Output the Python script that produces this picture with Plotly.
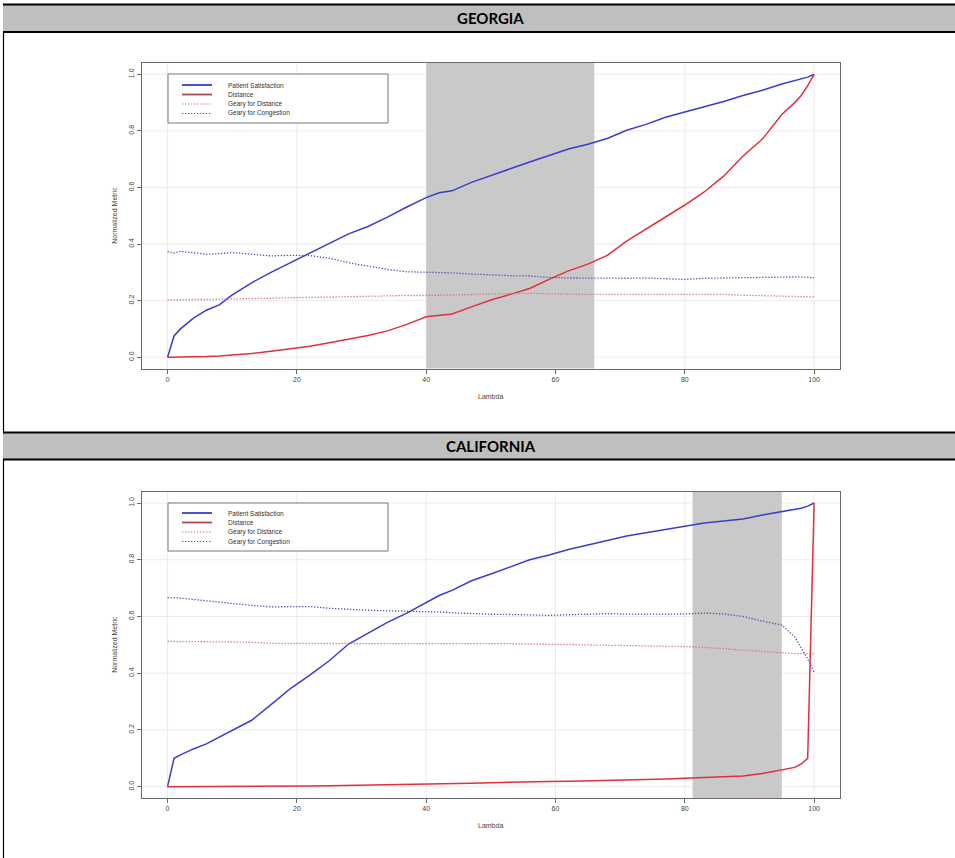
import plotly.graph_objects as go

W, H = 955, 858

# ---------------- data ----------------
lam = [0, 1, 2, 4, 6, 8, 10, 13, 16, 19, 22, 25, 28, 31, 34, 37, 40, 42, 44, 47,
       50, 53, 56, 59, 62, 65, 68, 71, 74, 77, 80, 83, 86, 89, 92, 95, 97, 98, 99, 100]

ga_satisfaction = [0.0, 0.075, 0.10, 0.138, 0.166, 0.185, 0.22, 0.263, 0.30, 0.334,
                   0.368, 0.403, 0.436, 0.462, 0.495, 0.531, 0.564, 0.581, 0.588, 0.618,
                   0.643, 0.666, 0.690, 0.714, 0.736, 0.753, 0.773, 0.802, 0.823, 0.848,
                   0.866, 0.884, 0.904, 0.925, 0.944, 0.966, 0.977, 0.983, 0.990, 1.0]
ga_distance = [0.0, 0.0, 0.0, 0.001, 0.002, 0.004, 0.007, 0.013, 0.021, 0.029,
               0.039, 0.051, 0.064, 0.077, 0.093, 0.116, 0.143, 0.149, 0.153, 0.178,
               0.202, 0.222, 0.243, 0.275, 0.305, 0.329, 0.360, 0.410, 0.452, 0.497,
               0.538, 0.584, 0.640, 0.711, 0.771, 0.858, 0.900, 0.925, 0.960, 1.0]
ga_geary_distance = [0.202, 0.203, 0.203, 0.204, 0.204, 0.205, 0.205, 0.206, 0.208, 0.209,
                     0.210, 0.212, 0.215, 0.216, 0.217, 0.218, 0.218, 0.219, 0.220, 0.221,
                     0.222, 0.223, 0.226, 0.224, 0.222, 0.222, 0.222, 0.222, 0.222, 0.223,
                     0.224, 0.223, 0.222, 0.219, 0.217, 0.216, 0.215, 0.214, 0.213, 0.213]
ga_geary_congestion = [0.373, 0.368, 0.374, 0.369, 0.364, 0.366, 0.370, 0.364, 0.358, 0.360,
                       0.359, 0.350, 0.334, 0.322, 0.310, 0.302, 0.300, 0.301, 0.298, 0.294,
                       0.290, 0.288, 0.287, 0.282, 0.280, 0.279, 0.279, 0.279, 0.280, 0.277,
                       0.275, 0.279, 0.280, 0.282, 0.281, 0.283, 0.285, 0.284, 0.282, 0.281]

ca_satisfaction = [0.0, 0.10, 0.112, 0.133, 0.151, 0.174, 0.199, 0.234, 0.289, 0.346,
                   0.393, 0.444, 0.503, 0.540, 0.579, 0.612, 0.649, 0.674, 0.692, 0.726,
                   0.750, 0.776, 0.800, 0.817, 0.836, 0.852, 0.868, 0.884, 0.895, 0.907,
                   0.918, 0.930, 0.937, 0.944, 0.958, 0.969, 0.977, 0.982, 0.989, 1.0]
ca_distance = [0.0, 0.0, 0.0, 0.0, 0.0, 0.0, 0.0, 0.0, 0.0, 0.001,
               0.002, 0.003, 0.004, 0.005, 0.006, 0.008, 0.009, 0.010, 0.011, 0.012,
               0.014, 0.016, 0.017, 0.018, 0.019, 0.020, 0.022, 0.023, 0.025, 0.027,
               0.030, 0.032, 0.034, 0.038, 0.046, 0.059, 0.068, 0.080, 0.100, 1.0]
ca_geary_distance = [0.512, 0.512, 0.511, 0.511, 0.510, 0.510, 0.510, 0.509, 0.505, 0.505,
                     0.505, 0.506, 0.506, 0.506, 0.506, 0.505, 0.505, 0.505, 0.505, 0.505,
                     0.505, 0.504, 0.503, 0.502, 0.501, 0.501, 0.500, 0.499, 0.498, 0.496,
                     0.494, 0.491, 0.486, 0.481, 0.475, 0.470, 0.469, 0.469, 0.469, 0.469]
ca_geary_congestion = [0.667, 0.666, 0.665, 0.660, 0.655, 0.649, 0.644, 0.639, 0.634, 0.635,
                       0.635, 0.629, 0.625, 0.622, 0.620, 0.619, 0.618, 0.616, 0.613, 0.610,
                       0.608, 0.607, 0.606, 0.604, 0.606, 0.608, 0.610, 0.608, 0.607, 0.608,
                       0.609, 0.612, 0.609, 0.600, 0.584, 0.570, 0.528, 0.490, 0.450, 0.404]

series_names = ["Patient Satisfaction", "Distance", "Geary for Distance", "Geary for Congestion"]
panel_titles = ["GEORGIA", "CALIFORNIA"]
ga_band = [40, 66]
ca_band = [81.2, 95]
x_ticks = [0, 20, 40, 60, 80, 100]
y_ticks = [0.0, 0.2, 0.4, 0.6, 0.8, 1.0]
y_tick_text = ["0.0", "0.2", "0.4", "0.6", "0.8", "1.0"]
x_title = "Lambda"
y_title = "Normalized Metric"

# ---------------- styles ----------------
DOT = "1.3px,1.7px"
GRID = "#ebebeb"
styles = {
    "Patient Satisfaction": dict(color="#3c3ccc", width=1.5, dash="solid"),
    "Distance": dict(color="#e0303c", width=1.5, dash="solid"),
    "Geary for Distance": dict(color="#d8707c", width=1.3, dash=DOT),
    "Geary for Congestion": dict(color="#5050b4", width=1.3, dash=DOT),
}
legend_line_colors = {
    "Patient Satisfaction": "#3c3ccc",
    "Distance": "#a84858",
    "Geary for Distance": "#d8707c",
    "Geary for Congestion": "#5050b4",
}


def px(xp):
    return xp / W


def py(yp):
    return 1 - yp / H


fig = go.Figure()

panels = [
    dict(series=[ga_satisfaction, ga_distance, ga_geary_distance, ga_geary_congestion],
         band=ga_band, xa="x", ya="y", top=63.0, bottom=368.5, header=(4.5, 32.0),
         leg_top=74.0, leg_bot=123.0, leg_rows=[85, 94.5, 104, 113.5], side=(33, 432),
         title_y=18.5, xlab_y=397),
    dict(series=[ca_satisfaction, ca_distance, ca_geary_distance, ca_geary_congestion],
         band=ca_band, xa="x2", ya="y2", top=491.7, bottom=798.0, header=(432.5, 459.5),
         leg_top=503.0, leg_bot=551.0, leg_rows=[513, 522.5, 532, 541.5], side=(460, 858),
         title_y=446, xlab_y=825),
]

left_px, right_px = 141.7, 840.0
shapes = []
annotations = []

for i, p in enumerate(panels):
    for name, vals in zip(series_names, p["series"]):
        st = styles[name]
        fig.add_trace(go.Scatter(
            x=lam, y=vals, mode="lines", name=name, showlegend=False,
            line=dict(color=st["color"], width=st["width"], dash=st["dash"]),
            xaxis=p["xa"], yaxis=p["ya"], hoverinfo="skip"))

    # grid lines (R grid()), drawn under the shaded band
    for t in x_ticks:
        shapes.append(dict(type="line", xref=p["xa"], yref=p["ya"] + " domain",
                           x0=t, x1=t, y0=0, y1=1, layer="below",
                           line=dict(color=GRID, width=1)))
    for t in y_ticks:
        shapes.append(dict(type="line", xref=p["xa"] + " domain", yref=p["ya"],
                           x0=0, x1=1, y0=t, y1=t, layer="below",
                           line=dict(color=GRID, width=1)))

    # shaded lambda band
    shapes.append(dict(type="rect", xref=p["xa"], yref=p["ya"] + " domain",
                       x0=p["band"][0], x1=p["band"][1], y0=0, y1=1,
                       fillcolor="#c9c9c9", line=dict(width=0), layer="below"))

    # header bar
    h0, h1 = p["header"]
    shapes.append(dict(type="rect", xref="paper", yref="paper",
                       x0=px(3), x1=1.0, y0=py(h1), y1=py(h0),
                       fillcolor="#bfbfbf", line=dict(width=0), layer="below"))
    shapes.append(dict(type="line", xref="paper", yref="paper",
                       x0=px(3), x1=1.0, y0=py(h0), y1=py(h0),
                       line=dict(color="#000000", width=2.2)))
    shapes.append(dict(type="line", xref="paper", yref="paper",
                       x0=px(3), x1=1.0, y0=py(h1), y1=py(h1),
                       line=dict(color="#000000", width=2.2)))
    shapes.append(dict(type="line", xref="paper", yref="paper",
                       x0=px(3.5), x1=px(3.5), y0=py(p["side"][1]), y1=py(p["side"][0]),
                       line=dict(color="#000000", width=1.2)))
    annotations.append(dict(text="<b>%s</b>" % panel_titles[i], xref="paper", yref="paper",
                            x=px(491), y=py(p["title_y"]), showarrow=False,
                            xanchor="center", yanchor="middle",
                            font=dict(family="Lato", size=15, color="#000000")))

    # axis titles
    annotations.append(dict(text=x_title, xref="paper", yref="paper",
                            x=px(491), y=py(p["xlab_y"]), showarrow=False,
                            xanchor="center", yanchor="middle",
                            font=dict(family="Liberation Sans", size=7, color="#444444")))
    annotations.append(dict(text=y_title, xref="paper", yref="paper",
                            x=px(115), y=py((p["top"] + p["bottom"]) / 2), showarrow=False,
                            xanchor="center", yanchor="middle", textangle=-90,
                            font=dict(family="Liberation Sans", size=7, color="#444444")))

    # legend box (drawn manually, R style)
    shapes.append(dict(type="rect", xref="paper", yref="paper",
                       x0=px(168), x1=px(388), y0=py(p["leg_bot"]), y1=py(p["leg_top"]),
                       fillcolor="#ffffff", line=dict(color="#777777", width=1)))
    for name, ry in zip(series_names, p["leg_rows"]):
        st = styles[name]
        shapes.append(dict(type="line", xref="paper", yref="paper",
                           x0=px(182), x1=px(212), y0=py(ry), y1=py(ry),
                           line=dict(color=legend_line_colors[name],
                                     width=1.8 if st["dash"] == "solid" else 1.1,
                                     dash=st["dash"])))
        annotations.append(dict(text=name, xref="paper", yref="paper",
                                x=px(226), y=py(ry), showarrow=False,
                                xanchor="left", yanchor="middle",
                                font=dict(family="Liberation Sans", size=6.5, color="#333333")))

axis_common = dict(
    showline=True, mirror=True, linecolor="#6a6a6a", linewidth=1,
    ticks="outside", ticklen=4, tickcolor="#6a6a6a", tickwidth=1,
    showgrid=False, zeroline=False,
    tickfont=dict(family="Liberation Sans", size=7, color="#444444"),
)

fig.update_layout(
    width=W, height=H, margin=dict(l=0, r=0, t=0, b=0),
    paper_bgcolor="#ffffff", plot_bgcolor="#ffffff",
    showlegend=False,
    xaxis=dict(domain=[px(left_px), px(right_px)], range=[-4, 104], anchor="y",
               tickvals=x_ticks, **axis_common),
    yaxis=dict(domain=[py(panels[0]["bottom"]), py(panels[0]["top"])], range=[-0.04, 1.04],
               anchor="x", tickvals=y_ticks, ticktext=y_tick_text, tickangle=-90,
               **axis_common),
    xaxis2=dict(domain=[px(left_px), px(right_px)], range=[-4, 104], anchor="y2",
                tickvals=x_ticks, **axis_common),
    yaxis2=dict(domain=[py(panels[1]["bottom"]), py(panels[1]["top"])], range=[-0.04, 1.04],
                anchor="x2", tickvals=y_ticks, ticktext=y_tick_text, tickangle=-90,
                **axis_common),
    shapes=shapes,
    annotations=annotations,
)

fig.write_html("out.html")
